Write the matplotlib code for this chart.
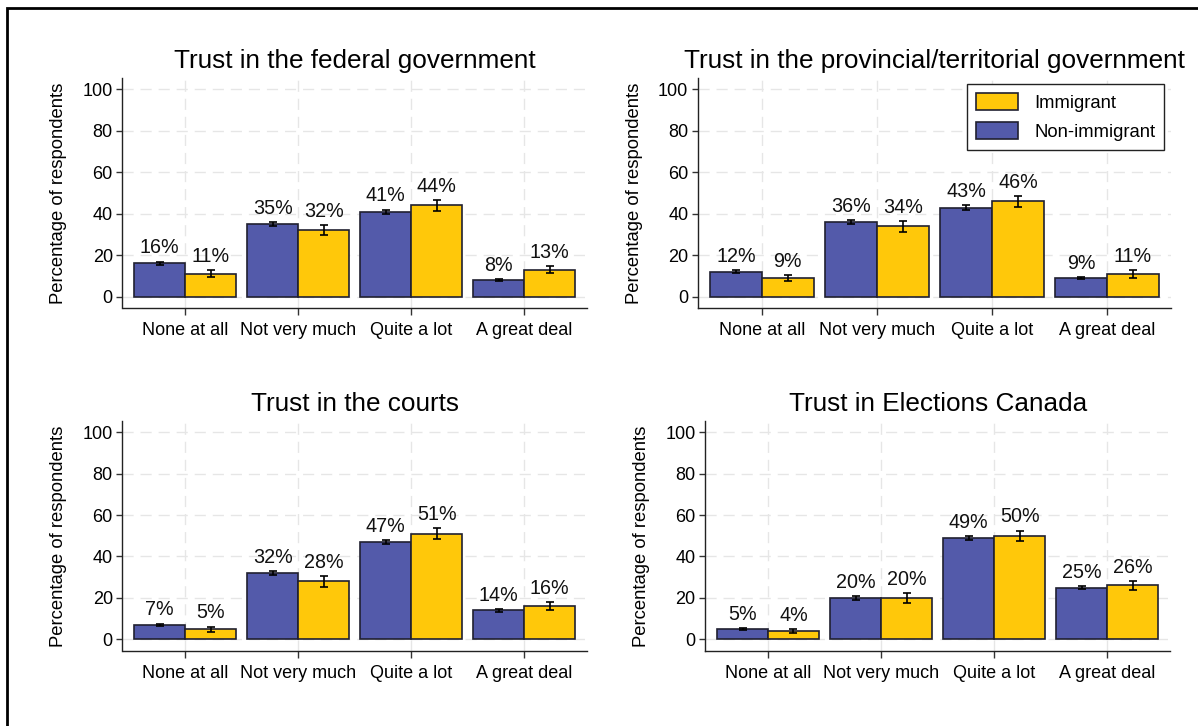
import numpy as np
import matplotlib
matplotlib.use("Agg")
import matplotlib.pyplot as plt
from matplotlib.patches import Rectangle

plt.rcParams['font.family'] = ['Liberation Sans', 'DejaVu Sans']

# survey answers and the two groups
categories = ["None at all", "Not very much", "Quite a lot", "A great deal"]
titles = ["Trust in the federal government",
          "Trust in the provincial/territorial government",
          "Trust in the courts",
          "Trust in Elections Canada"]

# percent of respondents, non-immigrant / immigrant
non_immigrant = [[16, 35, 41, 8],
                 [12, 36, 43, 9],
                 [7, 32, 47, 14],
                 [5, 20, 49, 25]]
immigrant = [[11, 32, 44, 13],
             [9, 34, 46, 11],
             [5, 28, 51, 16],
             [4, 20, 50, 26]]

# half-widths of the confidence intervals
non_immigrant_err = [[0.9, 1.0, 1.0, 0.6],
                     [0.7, 1.0, 1.0, 0.6],
                     [0.6, 1.0, 1.1, 0.7],
                     [0.5, 0.8, 1.0, 0.9]]
immigrant_err = [[1.7, 2.5, 2.6, 1.8],
                 [1.5, 2.6, 2.6, 2.0],
                 [1.2, 2.5, 2.6, 2.0],
                 [1.1, 2.3, 2.5, 2.2]]

BLUE = "#535AAA"
YELLOW = "#FFC80A"
EDGE = "#202030"

W, H = 1198, 726
fig = plt.figure(figsize=(W / 100, H / 100), dpi=100)


def px_axes(left, right, top, bottom):
    return fig.add_axes([left / W, 1 - bottom / H, (right - left) / W, (bottom - top) / H])


axes = [px_axes(122.5, 587, 77.7, 308.3),
        px_axes(698, 1171, 78, 308.3),
        px_axes(122.5, 587, 420.7, 651),
        px_axes(705.3, 1170, 420.7, 651)]

x = np.arange(len(categories))
w = 0.45

for i, ax in enumerate(axes):
    ax.set_axisbelow(True)
    b1 = ax.bar(x - w / 2, non_immigrant[i], w, color=BLUE, edgecolor=EDGE,
                linewidth=1.2, label="Non-immigrant")
    b2 = ax.bar(x + w / 2, immigrant[i], w, color=YELLOW, edgecolor=EDGE,
                linewidth=1.2, label="Immigrant")
    ax.errorbar(x - w / 2, non_immigrant[i], yerr=non_immigrant_err[i], fmt="none",
                ecolor="black", elinewidth=1.2, capsize=3, capthick=1.2)
    ax.errorbar(x + w / 2, immigrant[i], yerr=immigrant_err[i], fmt="none",
                ecolor="black", elinewidth=1.2, capsize=3, capthick=1.2)

    for xs, vals, errs in [(x - w / 2, non_immigrant[i], non_immigrant_err[i]),
                           (x + w / 2, immigrant[i], immigrant_err[i])]:
        for xx, v, e in zip(xs, vals, errs):
            ax.text(xx, v + e + 2.0, f"{v}%", ha="center", va="bottom",
                    fontsize=14.2, color="#111111")

    ax.set_xlim(-0.555, 3.555)
    ax.set_ylim(-5.6, 105.5)
    ax.set_yticks([0, 20, 40, 60, 80, 100])
    ax.set_xticks(x)
    ax.set_xticklabels(categories)
    ax.tick_params(axis="y", length=4.5, width=1, pad=2.5, labelsize=13, color="#333333")
    ax.tick_params(axis="x", length=5, width=1, pad=5, labelsize=13, color="#333333")
    ax.grid(True, color="#e6e6e6", linewidth=1.0, linestyle=(0, (8, 5)))
    for s in ["top", "right"]:
        ax.spines[s].set_visible(False)
    for s in ["left", "bottom"]:
        ax.spines[s].set_color("#222222")
        ax.spines[s].set_linewidth(1.0)
    ax.set_ylabel("Percentage of respondents", fontsize=13.3, labelpad=11)
    ax.set_title(titles[i], fontsize=18.8, pad=7)

    if i == 1:
        ax.legend(handles=[b2, b1], loc="upper right", bbox_to_anchor=(0.986, 0.974),
                  borderaxespad=0, fontsize=13.3, frameon=True, fancybox=False,
                  edgecolor="#222222", framealpha=1, handlelength=2.3,
                  handleheight=1.0, handletextpad=0.85, borderpad=0.5,
                  labelspacing=0.55)

# outer frame around the whole graphic
fig.patches.append(Rectangle((7 / W, -0.1), 1.2, 1.1 - 8 / H, transform=fig.transFigure,
                             fill=False, edgecolor="black", linewidth=2, clip_on=False))

fig.savefig("out.png", dpi=100)
